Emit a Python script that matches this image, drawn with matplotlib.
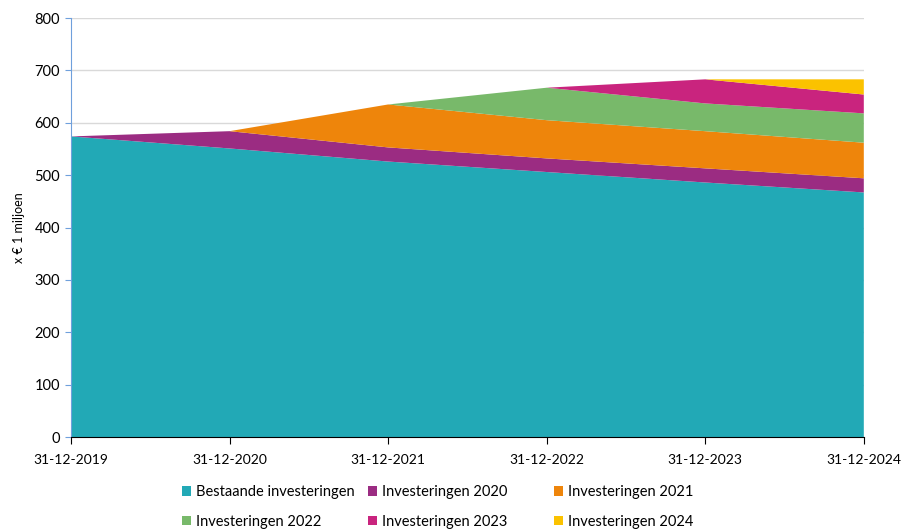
import matplotlib.pyplot as plt

# data (x € 1 miljoen)
dates = ['31-12-2019', '31-12-2020', '31-12-2021', '31-12-2022', '31-12-2023', '31-12-2024']
bestaande = [574, 551, 526, 506, 486, 467]
inv_2020 = [0, 33, 27, 26, 27, 27]
inv_2021 = [0, 0, 82, 73, 71, 68]
inv_2022 = [0, 0, 0, 62, 53, 56]
inv_2023 = [0, 0, 0, 0, 46, 36]
inv_2024 = [0, 0, 0, 0, 0, 29]

labels = ['Bestaande investeringen', 'Investeringen 2020', 'Investeringen 2021',
          'Investeringen 2022', 'Investeringen 2023', 'Investeringen 2024']
colors = ['#22A9B6', '#9B2C82', '#EE850B', '#78B96A', '#C9247E', '#FBC200']

plt.rcParams['font.family'] = ['Lato', 'DejaVu Sans']

fig = plt.figure(figsize=(9.03, 5.31), dpi=100)
ax = fig.add_axes([0.0786, 0.177, 0.878, 0.789])

x = list(range(len(dates)))
polys = ax.stackplot(x, bestaande, inv_2020, inv_2021, inv_2022, inv_2023, inv_2024,
                     labels=labels, colors=colors, linewidth=0)

ax.set_xlim(0, len(dates) - 1)
ax.set_ylim(0, 800)
ax.set_yticks(range(0, 801, 100))
ax.set_xticks(x)
ax.set_xticklabels(dates)
ax.tick_params(axis='x', length=5, color='black', labelsize=10, pad=7)
ax.tick_params(axis='y', length=4, color='#6FA0DC', labelsize=10.5, pad=4)

ax.grid(axis='y', color='#D9D9D9', linewidth=1)
ax.set_axisbelow(True)
for s in ['top', 'right']:
    ax.spines[s].set_visible(False)
ax.spines['left'].set_color('#6FA0DC')
ax.spines['bottom'].set_color('black')

ax.set_ylabel('x € 1 miljoen', fontsize=9)
ax.yaxis.set_label_coords(-0.058, 0.5)

# legend: 2 rows x 3 columns, row-major, one legend per column
col_x = [182, 368, 554]
for i, cx in enumerate(col_x):
    fig.legend([polys[i], polys[i + 3]], [labels[i], labels[i + 3]],
               loc='upper left', bbox_to_anchor=(cx / 903, 0.086),
               frameon=False, fontsize=10.5, borderpad=0, borderaxespad=0,
               handlelength=0.65, handleheight=0.65, handletextpad=0.3,
               labelspacing=1.05)

fig.savefig('out.png', dpi=100)
